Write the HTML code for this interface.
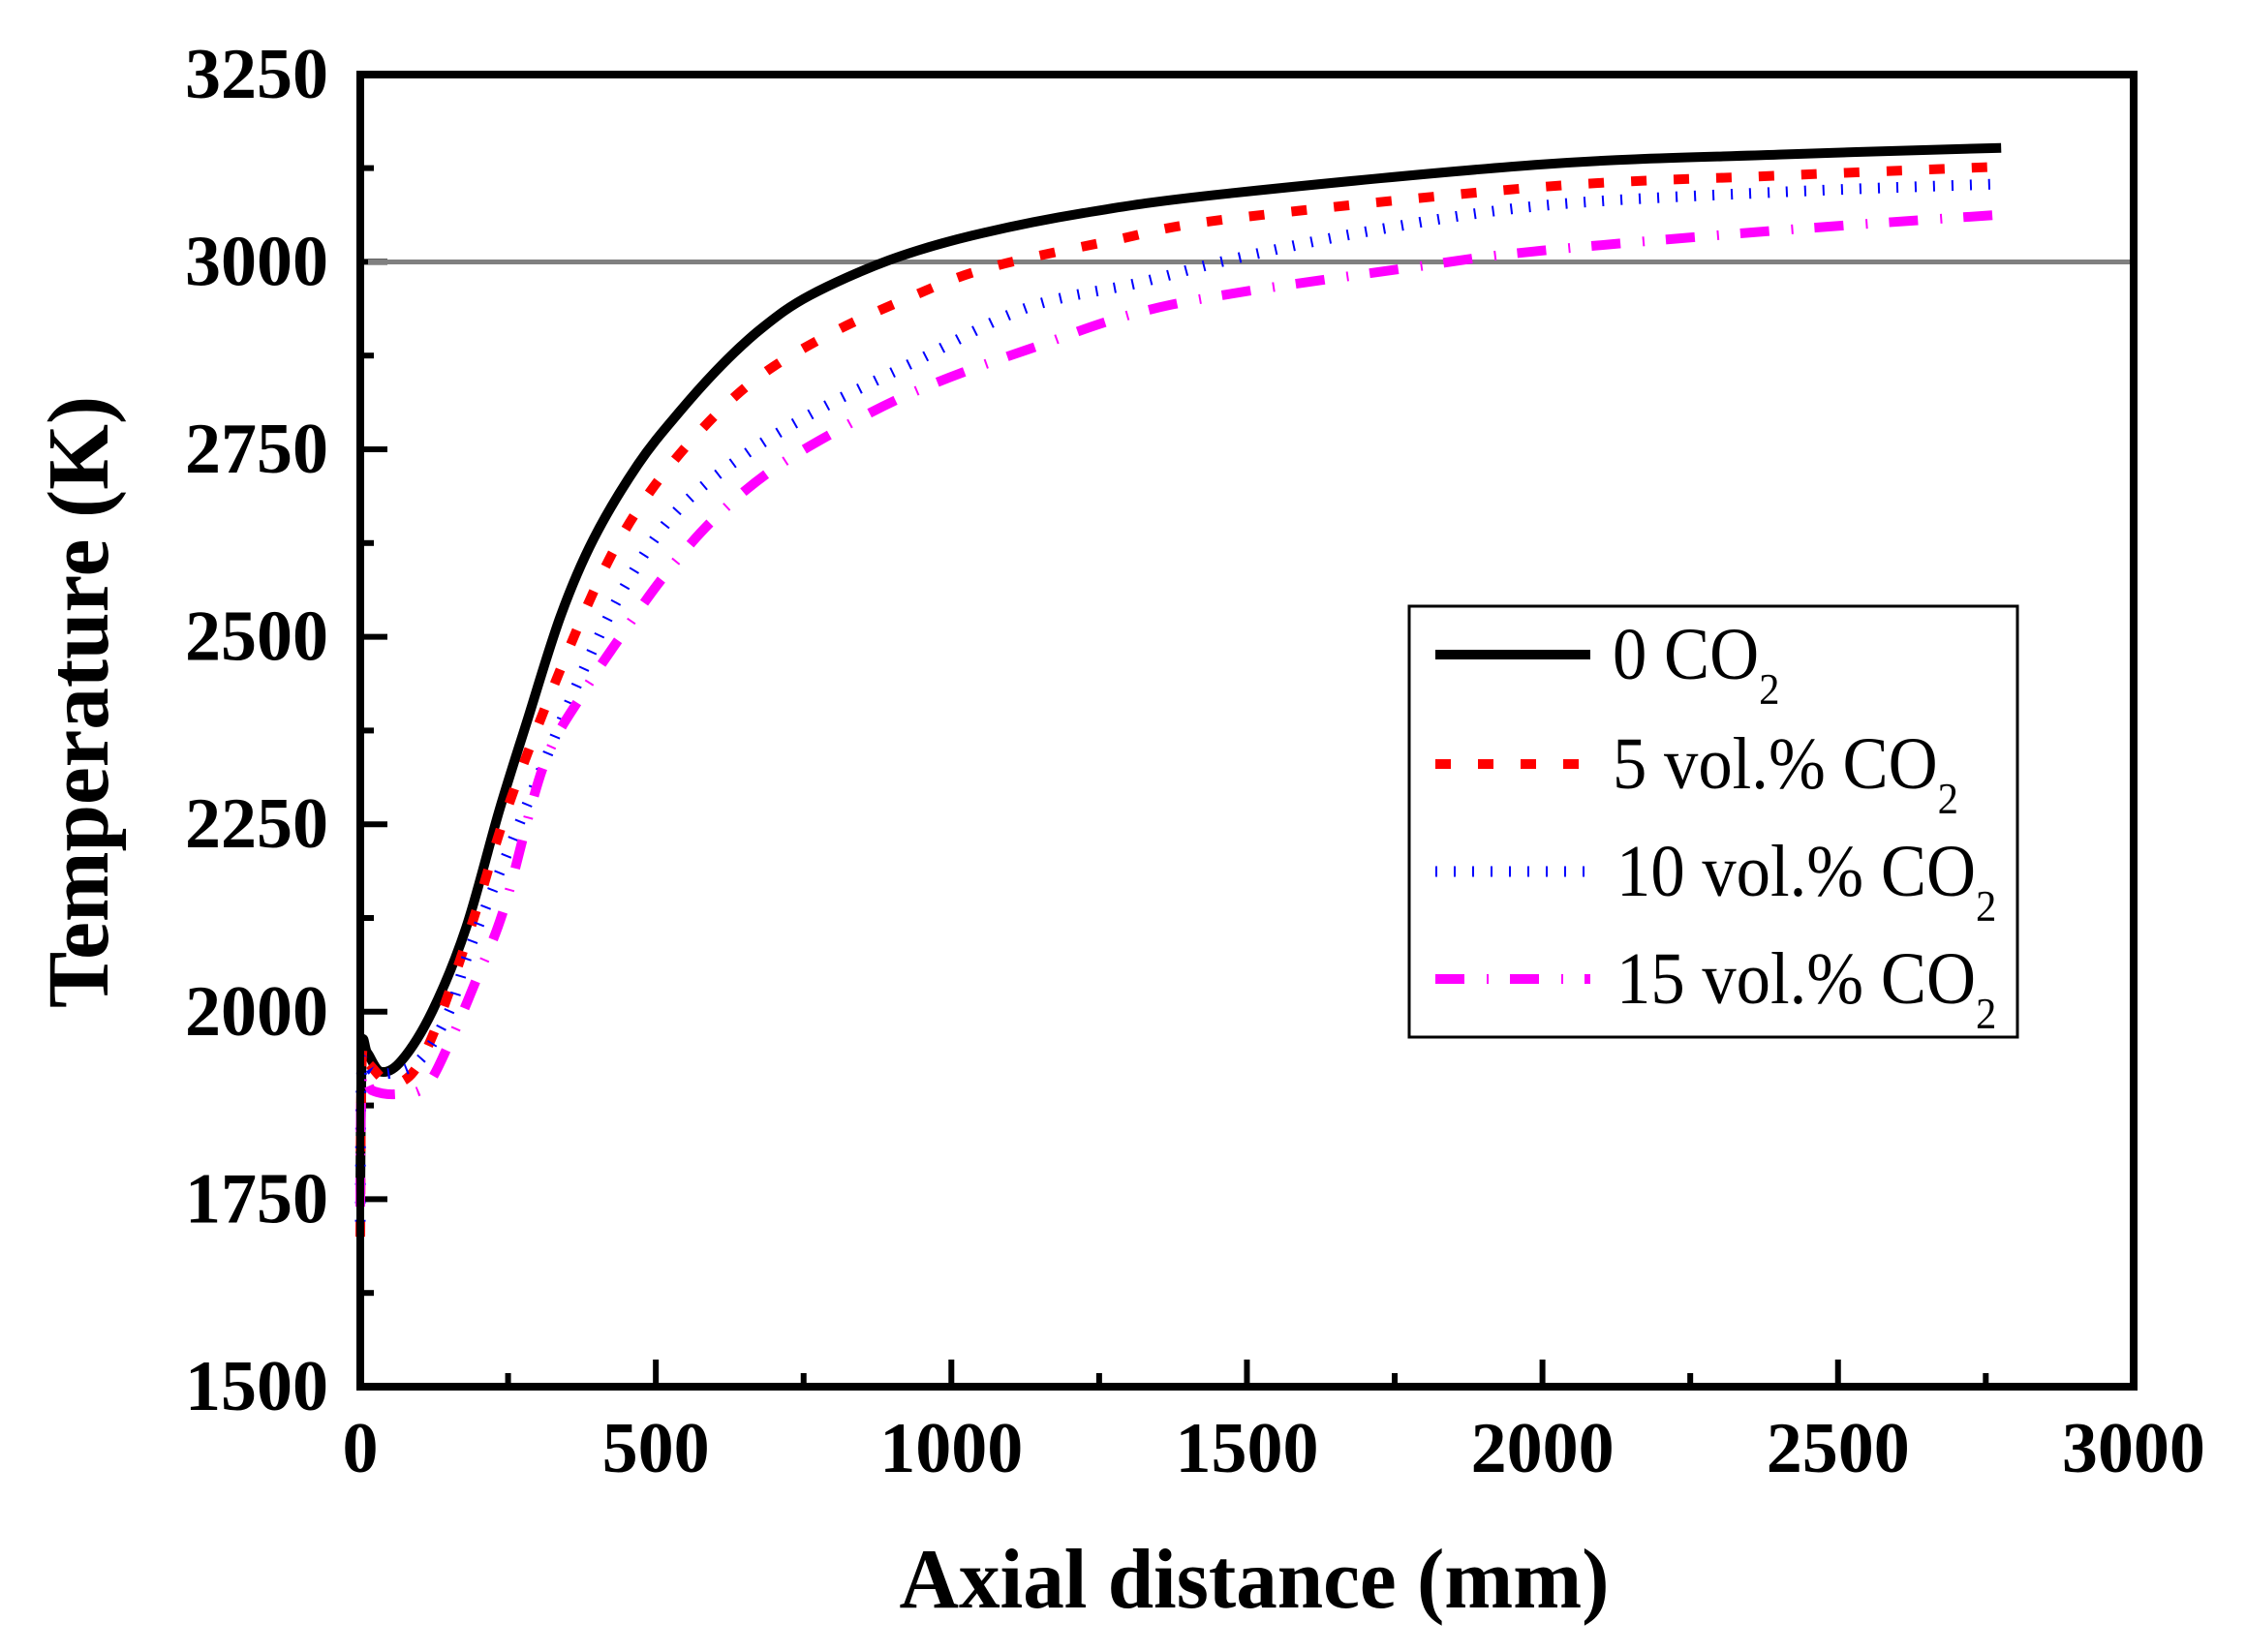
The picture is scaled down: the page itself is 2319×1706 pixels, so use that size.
<!DOCTYPE html>
<html><head><meta charset="utf-8"><style>
html,body{margin:0;padding:0;background:#fff}
svg{display:block}
text{font-family:"Liberation Serif",serif}
</style></head><body>
<svg id="s" width="2319" height="1706" viewBox="0 0 2319 1706" xmlns="http://www.w3.org/2000/svg">
<g id="ticks"></g>
<line x1="380" y1="270.5" x2="2203" y2="270.5" stroke="#808080" stroke-width="5"/>
<g id="curves" fill="none"></g>
<rect x="372" y="77" width="1831" height="1355" fill="none" stroke="#000" stroke-width="8"/>
<g id="labels" font-weight="bold" font-size="74"></g>
<text x="111" y="725" font-weight="bold" font-size="90" text-anchor="middle" transform="rotate(-90 111 725)" textLength="632" lengthAdjust="spacingAndGlyphs">Temperature (K)</text>
<text x="1295" y="1660" font-weight="bold" font-size="88" text-anchor="middle" textLength="733" lengthAdjust="spacingAndGlyphs">Axial distance (mm)</text>
<rect x="1455" y="626" width="628" height="445" fill="#fff" stroke="#000" stroke-width="3"/>
<line x1="1482" y1="676" x2="1642" y2="676" stroke="#000" stroke-width="10"/>
<line x1="1482" y1="789" x2="1642" y2="789" stroke="#f00" stroke-width="10" stroke-dasharray="16 28"/>
<line x1="1482" y1="900" x2="1642" y2="900" stroke="#00f" stroke-width="11" stroke-dasharray="2 17"/>
<line x1="1482" y1="1011" x2="1642" y2="1011" stroke="#f0f" stroke-width="10" stroke-dasharray="30 23 2 22"/>
<g font-size="76">
<text transform="translate(1665 701) scale(0.93 1)">0 CO<tspan font-size="46" dy="26">2</tspan></text>
<text transform="translate(1665 814) scale(0.93 1)">5 vol.% CO<tspan font-size="46" dy="26">2</tspan></text>
<text transform="translate(1669 925) scale(0.93 1)">10 vol.% CO<tspan font-size="46" dy="26">2</tspan></text>
<text transform="translate(1669 1036) scale(0.93 1)">15 vol.% CO<tspan font-size="46" dy="26">2</tspan></text>
</g>
</svg>
<script>
var NS="http://www.w3.org/2000/svg";
function X(m){return 372+m*0.6103;}
function Y(t){return 1432-(t-1500)*0.7744;}
function el(p,n,a,txt){var e=document.createElementNS(NS,n);for(var k in a)e.setAttribute(k,a[k]);if(txt!==undefined)e.textContent=txt;document.getElementById(p).appendChild(e);return e;}
for(var t=1500;t<=3250;t+=125){var maj=((t-1500)%250==0);var y=Y(t);
 if(t>1500&&t<3250)el("ticks","line",{x1:372,y1:y,x2:372+(maj?28:14),y2:y,stroke:"#000","stroke-width":6});
 if(maj)el("labels","text",{x:339,y:y+24,"text-anchor":"end"},String(t));}
for(var m=0;m<=3000;m+=250){var maj=(m%500==0);var x=X(m);
 if(m>0&&m<3000)el("ticks","line",{x1:x,y1:1432,x2:x,y2:1432-(maj?28:14),stroke:"#000","stroke-width":6});
 if(maj)el("labels","text",{x:x,y:1520,"text-anchor":"middle"},String(m));}
function path(pts){var P=pts.map(function(p){return [X(p[0]),Y(p[1])];});
 var d="M"+P[0][0]+","+P[0][1];
 for(var i=0;i<P.length-1;i++){var p0=P[i-1]||P[i],p1=P[i],p2=P[i+1],p3=P[i+2]||P[i+1];
  var c1=[p1[0]+(p2[0]-p0[0])/6,p1[1]+(p2[1]-p0[1])/6],c2=[p2[0]-(p3[0]-p1[0])/6,p2[1]-(p3[1]-p1[1])/6];
  d+=" C"+c1[0]+","+c1[1]+" "+c2[0]+","+c2[1]+" "+p2[0]+","+p2[1];}
 return d;}
var S=[
 {c:"#000",w:10,da:"",p:[[0,1760],[3,1950],[12,1945],[35,1920],[70,1935],[122,2001],[179,2112],[235,2268],[282,2387],[339,2528],[395,2631],[470,2730],[540,2800],[611,2862],[680,2912],[760,2955],[894,3002],[1035,3035],[1223,3065],[1467,3091],[2000,3130],[2400,3143],[2776,3152]]},
 {c:"#f00",w:10,da:"16 28",p:[[0,1700],[3,1940],[15,1930],[50,1905],[90,1920],[132,1987],[190,2120],[245,2262],[320,2420],[404,2576],[475,2676],[564,2765],[668,2843],[790,2902],[922,2950],[1058,2991],[1270,3028],[1467,3057],[2000,3100],[2400,3115],[2776,3127]]},
 {c:"#00f",w:11,da:"2 17",p:[[0,1720],[3,1930],[20,1922],[50,1918],[100,1935],[150,2000],[188,2090],[282,2276],[376,2453],[451,2572],[536,2668],[649,2742],[781,2805],[941,2868],[1129,2939],[1317,2972],[1467,3002],[1700,3040],[2000,3075],[2400,3093],[2776,3104]]},
 {c:"#f0f",w:10,da:"30 23 2 22",p:[[0,1740],[3,1910],[20,1895],[60,1890],[110,1900],[150,1957],[200,2050],[245,2142],[310,2328],[376,2424],[442,2502],[513,2580],[593,2653],[687,2717],[800,2772],[941,2828],[1129,2883],[1373,2943],[1800,2995],[2000,3015],[2400,3042],[2776,3063]]}
];
S.forEach(function(s){var a={d:path(s.p),stroke:s.c,"stroke-width":s.w,"stroke-linejoin":"round"};if(s.da)a["stroke-dasharray"]=s.da;el("curves","path",a);});
</script>
</body></html>
